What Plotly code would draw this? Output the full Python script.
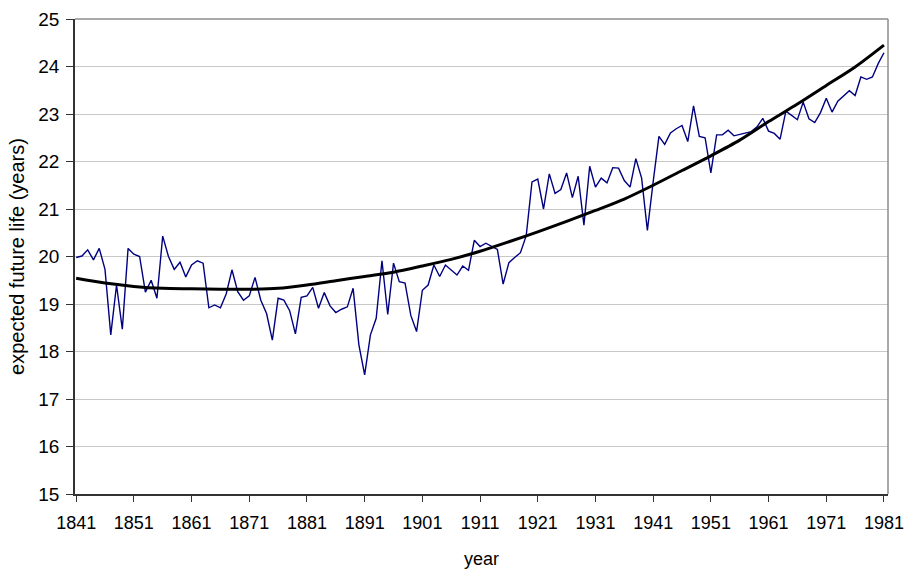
import plotly.graph_objects as go

years = list(range(1841, 1982))

life_expectancy = [
    19.98, 20.01, 20.14, 19.93, 20.17, 19.73, 18.35, 19.40, 18.47, 20.17,  # 1841-1850
    20.05, 20.00, 19.25, 19.50, 19.12, 20.43, 20.00, 19.73, 19.88, 19.57,  # 1851-1860
    19.82, 19.91, 19.86, 18.92, 18.98, 18.92, 19.21, 19.72, 19.26, 19.08,  # 1861-1870
    19.17, 19.56, 19.08, 18.80, 18.24, 19.12, 19.08, 18.86, 18.37, 19.14,  # 1871-1880
    19.17, 19.35, 18.91, 19.24, 18.96, 18.82, 18.89, 18.94, 19.33, 18.14,  # 1881-1890
    17.51, 18.35, 18.70, 19.91, 18.78, 19.86, 19.47, 19.44, 18.76, 18.42,  # 1891-1900
    19.29, 19.40, 19.82, 19.58, 19.82, 19.71, 19.61, 19.80, 19.71, 20.34,  # 1901-1910
    20.21, 20.28, 20.21, 20.15, 19.42, 19.87, 19.98, 20.08, 20.44, 21.57,  # 1911-1920
    21.63, 21.00, 21.74, 21.33, 21.41, 21.76, 21.24, 21.69, 20.66, 21.90,  # 1921-1930
    21.46, 21.65, 21.55, 21.87, 21.86, 21.60, 21.46, 22.06, 21.65, 20.55,  # 1931-1940
    21.57, 22.53, 22.36, 22.60, 22.69, 22.76, 22.42, 23.17, 22.53, 22.50,  # 1941-1950
    21.76, 22.56, 22.56, 22.66, 22.54, 22.57, 22.59, 22.63, 22.73, 22.91,  # 1951-1960
    22.64, 22.59, 22.47, 23.06, 22.97, 22.88, 23.25, 22.90, 22.82, 23.03,  # 1961-1970
    23.33, 23.04, 23.27, 23.39, 23.49, 23.39, 23.78, 23.73, 23.78, 24.06,  # 1971-1980
    24.29,                                                                  # 1981
]

trend_years = list(range(1841, 1982, 5))
trend_values = [
    19.54, 19.44, 19.37, 19.33, 19.32, 19.31, 19.31, 19.33, 19.40, 19.49,
    19.58, 19.67, 19.80, 19.94, 20.11, 20.31, 20.52, 20.74, 20.97, 21.21,
    21.50, 21.81, 22.12, 22.45, 22.84, 23.21, 23.60, 23.99, 24.45,
]

x_tick_labels = [str(y) for y in range(1841, 1982, 10)]
y_tick_values = list(range(15, 26))

FONT = "Liberation Sans, Arial, sans-serif"

fig = go.Figure()
fig.add_trace(go.Scatter(
    x=years, y=life_expectancy, mode="lines",
    line=dict(color="#000080", width=1.4),
    showlegend=False, hoverinfo="x+y",
))
fig.add_trace(go.Scatter(
    x=trend_years, y=trend_values, mode="lines",
    line=dict(color="#000000", width=3, shape="spline", smoothing=0.8),
    showlegend=False, hoverinfo="x+y",
))

fig.update_layout(
    width=906, height=569,
    margin=dict(l=75, r=18, t=19, b=75, autoexpand=False),
    paper_bgcolor="white", plot_bgcolor="white",
    font=dict(family=FONT, size=18, color="black"),
    xaxis=dict(
        range=[1840.8, 1981.7],
        tickmode="array",
        tickvals=[int(t) for t in x_tick_labels],
        ticktext=x_tick_labels,
        ticks="outside", ticklen=6, tickcolor="#333333", tickwidth=1,
        ticklabelstandoff=6, ticklabeloverflow="allow",
        showgrid=False, zeroline=False, automargin=False,
        showline=True, linecolor="#333333", linewidth=1.5,
        tickfont=dict(size=18),
        title=dict(text="year", font=dict(size=18), standoff=29),
    ),
    yaxis=dict(
        range=[15, 25],
        tickmode="array",
        tickvals=y_tick_values,
        ticks="outside", ticklen=7, tickcolor="#333333", tickwidth=1,
        ticklabelstandoff=3, ticklabeloverflow="allow",
        showgrid=True, gridcolor="#c8c8c8", gridwidth=1,
        zeroline=False, automargin=False,
        showline=True, linecolor="#333333", linewidth=1.5,
        tickfont=dict(size=19),
        title=dict(text="expected future life (years)", font=dict(size=20), standoff=8),
    ),
    shapes=[
        dict(type="line", xref="paper", yref="paper", x0=0, x1=1, y0=1, y1=1,
             line=dict(color="#8c8c8c", width=1.5)),
        dict(type="line", xref="paper", yref="paper", x0=1, x1=1, y0=0, y1=1,
             line=dict(color="#8c8c8c", width=1.5)),
    ],
)

# Remove the browser's default 8px body margin so the figure fills the window exactly.
fig.write_html(
    "out.html",
    config={"displayModeBar": False},
    post_script="document.body.style.margin='0';document.body.style.overflow='hidden';",
)
